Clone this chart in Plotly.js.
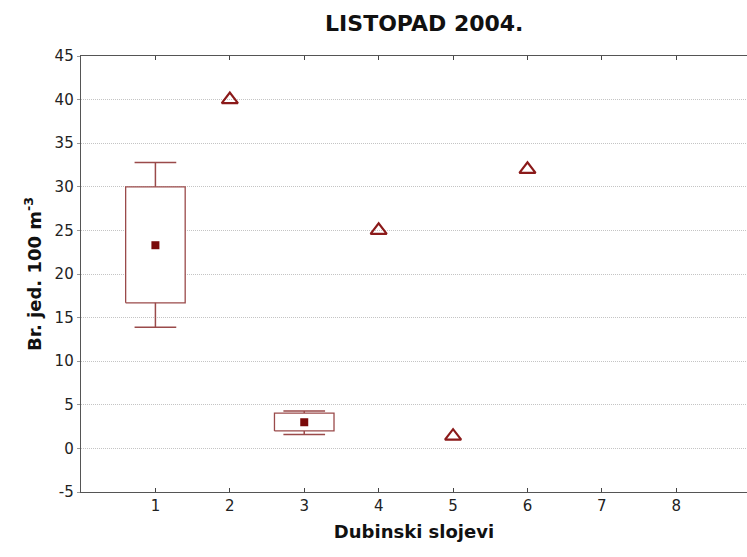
<!DOCTYPE html>
<html>
<head>
<meta charset="utf-8">
<script src="https://cdn.plot.ly/plotly-3.0.1.min.js"></script>
<style>html,body{margin:0;padding:0;background:#fff;}#chart{width:747px;height:557px;}</style>
</head>
<body>
<div id="chart"></div>
<script>
// Box categories (mean, box and whiskers)
const boxCats = [1, 3];
const boxMean = [23.3, 3.0];
const boxLow = [16.7, 2.0];
const boxHigh = [30.0, 4.05];
const whiskLow = [13.9, 1.6];
const whiskHigh = [32.8, 4.3];
// Single-value categories (triangles)
const triCats = [2, 4, 5, 6];
const triVals = [40, 25, 1.4, 32];
const xTicks = [1, 2, 3, 4, 5, 6, 7, 8];
const yTicks = [-5, 0, 5, 10, 15, 20, 25, 30, 35, 40, 45];
const yTickText = ['-5', '0', '5', '10', '15', '20', '25', '30', '35', '40', '45'];

const boxColor = '#9a4a4a';
const meanColor = '#7a0a0a';
const triColor = '#8b1a1a';
const halfW = 0.4, capHalf = 0.28;

const bx = [], by = [], wx = [], wy = [];
boxCats.forEach((c, i) => {
  bx.push(c - halfW, c + halfW, c + halfW, c - halfW, c - halfW, null);
  by.push(boxLow[i], boxLow[i], boxHigh[i], boxHigh[i], boxLow[i], null);
  wx.push(c, c, null, c - capHalf, c + capHalf, null);
  wy.push(boxHigh[i], whiskHigh[i], null, whiskHigh[i], whiskHigh[i], null);
  wx.push(c, c, null, c - capHalf, c + capHalf, null);
  wy.push(boxLow[i], whiskLow[i], null, whiskLow[i], whiskLow[i], null);
});

const traces = [
  {x: bx, y: by, type: 'scatter', mode: 'lines', fill: 'toself', fillcolor: '#ffffff',
   line: {color: boxColor, width: 1.3}, hoverinfo: 'skip', showlegend: false},
  {x: wx, y: wy, type: 'scatter', mode: 'lines', line: {color: boxColor, width: 1.5},
   hoverinfo: 'skip', showlegend: false},
  {x: boxCats, y: boxMean, type: 'scatter', mode: 'markers',
   marker: {symbol: 'square', size: 8, color: meanColor}, showlegend: false},
  {x: triCats, y: triVals, type: 'scatter', mode: 'markers',
   marker: {symbol: 'triangle-up-open', size: 14, color: triColor, line: {width: 2.2, color: triColor}},
   showlegend: false}
];

const layout = {
  width: 747, height: 557,
  margin: {l: 81, r: 0, t: 56, b: 65},
  paper_bgcolor: '#ffffff', plot_bgcolor: '#ffffff',
  font: {family: 'DejaVu Sans, Arial, sans-serif', color: '#222'},
  title: {text: '<b>LISTOPAD 2004.</b>', x: 0.568, xanchor: 'center', y: 0.958, yanchor: 'middle',
          font: {size: 22, color: '#111'}},
  xaxis: {
    range: [0, 8.95], tickvals: xTicks, ticktext: xTicks.map(String),
    showgrid: false, zeroline: false,
    showline: true, linecolor: '#555', linewidth: 1.3, mirror: 'ticks',
    ticks: 'inside', ticklen: 4, tickcolor: '#444',
    tickfont: {size: 15, color: '#222'},
    title: {text: '<b>Dubinski slojevi</b>', font: {size: 18, color: '#111'}, standoff: 11}
  },
  yaxis: {
    range: [-5, 45], tickvals: yTicks, ticktext: yTickText,
    showgrid: true, gridcolor: '#c4c4c4', griddash: '1px,1px', gridwidth: 1,
    zeroline: false,
    showline: true, linecolor: '#555', linewidth: 1.3,
    ticks: 'outside', ticklen: 3, tickcolor: '#999',
    tickfont: {size: 15, color: '#222'},
    title: {text: '<b>Br. jed. 100 m<sup>-3</sup></b>', font: {size: 18, color: '#111'}, standoff: 8}
  }
};

Plotly.newPlot('chart', traces, layout, {displayModeBar: false, staticPlot: true});
</script>
</body>
</html>
